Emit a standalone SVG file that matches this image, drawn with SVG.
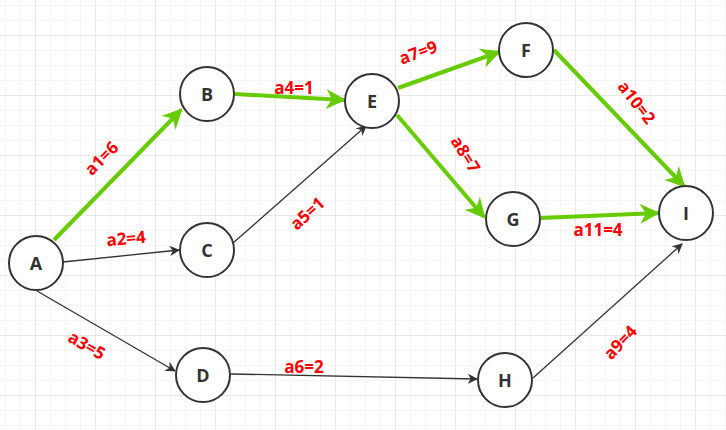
<svg xmlns="http://www.w3.org/2000/svg" width="726" height="430" viewBox="0 0 726 430">
<defs>
<pattern id="g" x="5" y="5" width="15" height="15" patternUnits="userSpaceOnUse"><path d="M0 0H15M0 0V15" stroke="#ebebeb" stroke-width="1" fill="none"/></pattern>
<pattern id="G" x="35" y="35" width="60" height="60" patternUnits="userSpaceOnUse"><path d="M0 0H60M0 0V60" stroke="#dcdcdc" stroke-width="1" fill="none"/></pattern>
<marker id="ag" viewBox="0 0 10 10" refX="9" refY="5" markerWidth="5" markerHeight="5" orient="auto" markerUnits="strokeWidth"><path d="M0 0L10 5L0 10L3 5Z" fill="#66cc00"/></marker>
<marker id="ab" viewBox="0 0 10 10" refX="9" refY="5" markerWidth="8" markerHeight="8" orient="auto" markerUnits="strokeWidth"><path d="M0 0L10 5L0 10L3 5Z" fill="#333"/></marker>
</defs>
<style>
.n circle{fill:#fff;stroke:#333;stroke-width:2}
.n text{font:bold 18px "Open Sans","Liberation Sans",sans-serif;fill:#333;text-anchor:middle;dominant-baseline:central}
.g{stroke:#66cc00;stroke-width:4;fill:none;marker-end:url(#ag)}
.b{stroke:#333;stroke-width:1.3;fill:none;marker-end:url(#ab)}
.l{font:bold 17px "Open Sans","Liberation Sans",sans-serif;fill:#ff0000;text-anchor:middle;dominant-baseline:central}
</style>
<rect width="726" height="430" fill="#fff"/>
<rect width="726" height="430" fill="url(#g)"/>
<rect width="726" height="430" fill="url(#G)"/>
<g id="connectors">
<path class="g" d="M54 240L181 110"/>
<path class="g" d="M235 94L344 100"/>
<path class="g" d="M398 88L499 52"/>
<path class="g" d="M397 115L484 217"/>
<path class="g" d="M554 50L684 186"/>
<path class="g" d="M541 218L658 213"/>
<path class="b" d="M63 262L179 250"/>
<path class="b" d="M233 243L366 126"/>
<path class="b" d="M37 291L175 371"/>
<path class="b" d="M231 374L477 379"/>
<path class="b" d="M533 378L682 244"/>
</g>
<g font-family="sans-serif">
<text class="l" transform="translate(101 158) rotate(-45)">a1=6</text>
<text class="l" transform="translate(126 238) rotate(-5)">a2=4</text>
<text class="l" transform="translate(87 345) rotate(30)">a3=5</text>
<text class="l" transform="translate(294 87)">a4=1</text>
<text class="l" transform="translate(307 213) rotate(-42)">a5=1</text>
<text class="l" transform="translate(304 366)">a6=2</text>
<text class="l" transform="translate(418 52) rotate(-20)">a7=9</text>
<text class="l" transform="translate(466 154) rotate(58)">a8=7</text>
<text class="l" transform="translate(620 342) rotate(-47)">a9=4</text>
<text class="l" transform="translate(637 102) rotate(52)">a10=2</text>
<text class="l" transform="translate(598 229)">a11=4</text>
</g>
<g id="A" class="n"><circle cx="36" cy="263" r="27"/><text x="36" y="263">A</text></g>
<g id="B" class="n"><circle cx="207" cy="94" r="27"/><text x="207" y="94">B</text></g>
<g id="C" class="n"><circle cx="207" cy="250" r="27"/><text x="207" y="250">C</text></g>
<g id="D" class="n"><circle cx="203" cy="375" r="27"/><text x="203" y="375">D</text></g>
<g id="E" class="n"><circle cx="372" cy="101" r="27"/><text x="372" y="101">E</text></g>
<g id="F" class="n"><circle cx="526" cy="50" r="27"/><text x="526" y="50">F</text></g>
<g id="G" class="n"><circle cx="513" cy="219" r="27"/><text x="513" y="219">G</text></g>
<g id="H" class="n"><circle cx="505" cy="380" r="27"/><text x="505" y="380">H</text></g>
<g id="I" class="n"><circle cx="686" cy="213" r="27"/><text x="686" y="213">I</text></g>
</svg>
